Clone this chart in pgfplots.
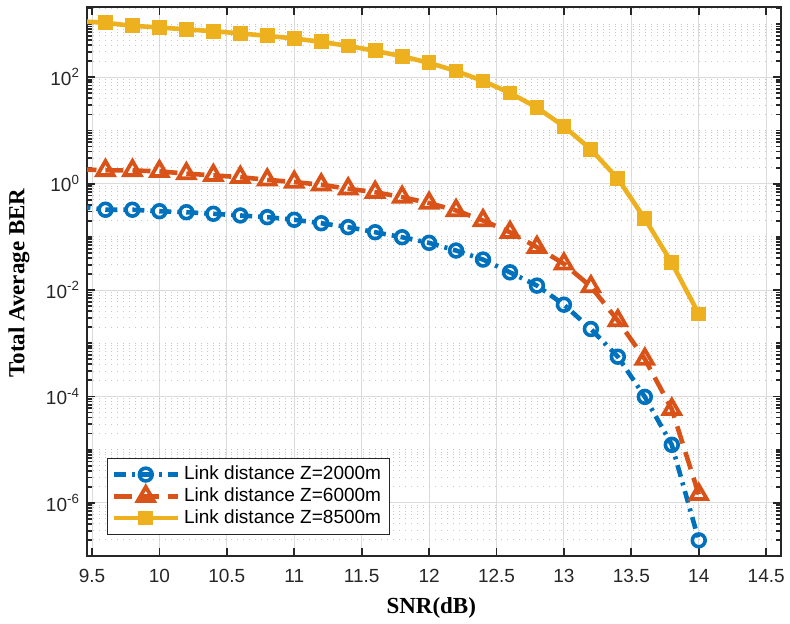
\documentclass[border=0pt]{standalone}
\usepackage{fontspec}
\setmainfont{Liberation Sans}
\newfontfamily\tnr{Liberation Serif}
\usepackage{pgfplots}
\pgfplotsset{compat=1.18}

\definecolor{mblue}{rgb}{0,0.447,0.741}
\definecolor{morange}{rgb}{0.85,0.325,0.098}
\definecolor{myellow}{rgb}{0.929,0.694,0.125}
\definecolor{axgray}{rgb}{0.15,0.15,0.15}

\begin{document}
\begin{tikzpicture}
\begin{axis}[
    name=ax,
    scale only axis,
    width=347pt, height=274.5pt,
    ymode=log,
    xmin=9.463, xmax=14.61,
    ymin=1e-7, ymax=2090,
    xtick={9.5,10,10.5,11,11.5,12,12.5,13,13.5,14,14.5},
    xticklabels={9.5,10,10.5,11,11.5,12,12.5,13,13.5,14,14.5},
    ytick={1e-6,1e-4,1e-2,1,100},
    yticklabels={10\textsuperscript{-6},10\textsuperscript{-4},10\textsuperscript{-2},10\textsuperscript{0},10\textsuperscript{2}},
    minor ytick={2e-7,3e-7,4e-7,5e-7,6e-7,7e-7,8e-7,9e-7,
        2e-6,3e-6,4e-6,5e-6,6e-6,7e-6,8e-6,9e-6,
        1e-5,2e-5,3e-5,4e-5,5e-5,6e-5,7e-5,8e-5,9e-5,
        2e-4,3e-4,4e-4,5e-4,6e-4,7e-4,8e-4,9e-4,
        1e-3,2e-3,3e-3,4e-3,5e-3,6e-3,7e-3,8e-3,9e-3,
        2e-2,3e-2,4e-2,5e-2,6e-2,7e-2,8e-2,9e-2,
        0.1,0.2,0.3,0.4,0.5,0.6,0.7,0.8,0.9,
        2,3,4,5,6,7,8,9,
        10,20,30,40,50,60,70,80,90,
        200,300,400,500,600,700,800,900,1000,2000},
    tick label style={font=\fontsize{9.5}{10}\selectfont, text=axgray},
    xticklabel style={yshift=-3pt},
    grid=both,
    major grid style={line width=0.45pt, black!14},
    minor grid style={line width=0.5pt, black!22, dash pattern=on 0.7pt off 2.3pt},
    tick align=inside,
    major tick length=3.8pt,
    minor tick length=2.3pt,
    every tick/.style={axgray, line width=0.9pt},
    axis line style={axgray, line width=1.1pt},
    xlabel={\tnr\bfseries SNR(dB)},
    ylabel={\tnr\bfseries Total Average BER},
    label style={font=\fontsize{11.5}{13}\selectfont},
    xlabel style={at={(axis description cs:0.496,-0.094)}, anchor=center},
    ylabel style={at={(axis description cs:-0.098,0.497)}, anchor=center},
    clip marker paths=true,
    legend style={at={(axis description cs:0.0288,0.0383)}, anchor=south west,
        draw=axgray, line width=0.5pt, fill=white,
        font=\fontsize{9.5}{11}\selectfont, text=black,
        cells={anchor=west}, inner sep=2pt, row sep=-1.5pt},
    legend image code/.code={
        \draw[mark repeat=2, mark phase=2] plot coordinates {(0pt,0pt) (16pt,0pt) (32pt,0pt)};
    },
]
% Z = 2000 m
\addplot[mblue, line width=2.3pt, dash pattern=on 6pt off 3pt on 1.5pt off 3pt,
    mark=o, mark size=3.2pt, mark options={solid, line width=1.8pt}]
coordinates {
(9.4,0.37) (9.6,0.323) (9.8,0.323) (10.0,0.303) (10.2,0.290) (10.4,0.271)
(10.6,0.252) (10.8,0.234) (11.0,0.209) (11.2,0.180) (11.4,0.152) (11.6,0.122)
(11.8,0.0982) (12.0,0.0771) (12.2,0.0552) (12.4,0.0374) (12.6,0.0215)
(12.8,0.0121) (13.0,0.0053) (13.2,0.00185) (13.4,5.57e-4) (13.6,9.8e-5)
(13.8,1.23e-5) (14.0,1.97e-7)
};
% Z = 6000 m
\addplot[morange, line width=2.3pt, dash pattern=on 9pt off 4.5pt,
    mark=triangle, mark size=4.7pt, mark options={solid, line width=1.9pt}]
coordinates {
(9.4,1.87) (9.6,1.77) (9.8,1.77) (10.0,1.70) (10.2,1.54) (10.4,1.43)
(10.6,1.32) (10.8,1.18) (11.0,1.07) (11.2,0.953) (11.4,0.80) (11.6,0.69)
(11.8,0.557) (12.0,0.43) (12.2,0.313) (12.4,0.203) (12.6,0.122)
(12.8,0.0637) (13.0,0.031) (13.2,0.0116) (13.4,0.00266) (13.6,5.04e-4)
(13.8,5.76e-5) (14.0,1.44e-6)
};
% Z = 8500 m
\addplot[myellow, line width=2.3pt, solid,
    mark=square*, mark size=3.2pt, mark options={solid, line width=1pt}]
coordinates {
(9.4,1130) (9.6,1055) (9.8,925) (10.0,863) (10.2,791) (10.4,734)
(10.6,665) (10.8,600) (11.0,535) (11.2,462) (11.4,388) (11.6,313)
(11.8,248) (12.0,186) (12.2,131) (12.4,85) (12.6,50.6)
(12.8,26.9) (13.0,11.9) (13.2,4.4) (13.4,1.24) (13.6,0.218)
(13.8,0.0324) (14.0,0.00355)
};
\legend{Link distance Z=2000m, Link distance Z=6000m, Link distance Z=8500m}
\end{axis}
\pgfresetboundingbox
\path[use as bounding box] ([xshift=-43.5pt, yshift=-34pt]ax.south west) rectangle ([xshift=4.5pt, yshift=3.5pt]ax.north east);
\end{tikzpicture}
\end{document}
